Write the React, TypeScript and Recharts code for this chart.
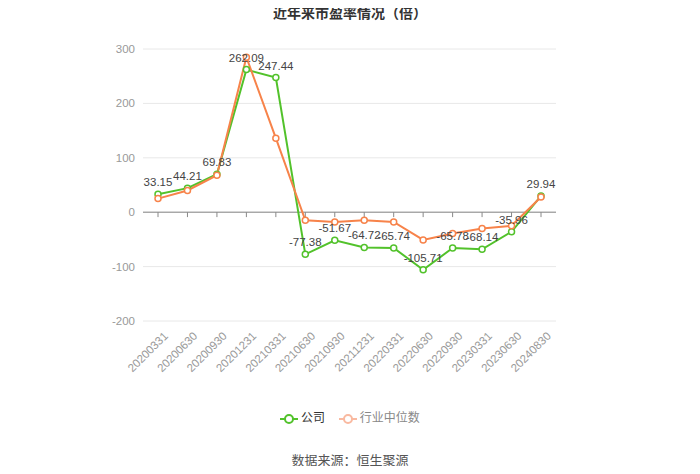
import React from 'react';
import { LineChart, Line, XAxis, YAxis, CartesianGrid, ReferenceLine, LabelList } from 'recharts';

const periods = [
  '20200331', '20200630', '20200930', '20201231', '20210331', '20210630', '20210930',
  '20211231', '20220331', '20220630', '20220930', '20230331', '20230630', '20240830',
];
const companyPE = [33.15, 44.21, 69.83, 262.09, 247.44, -77.38, -51.67, -64.72, -65.74, -105.71, -65.78, -68.14, -35.96, 29.94];
const industryPE = [25, 40, 68, 285, 136, -15, -18, -15, -18, -51, -39, -30, -25, 28];
const yTicks = [-200, -100, 0, 100, 200, 300];

const GREEN = '#52c22b';
const ORANGE = '#f7834a';
const FONT = '"Liberation Sans", "Noto Sans CJK SC", sans-serif';
const CJK = '"Noto Sans CJK SC", sans-serif';

const data = periods.map((p, i) => ({ period: p, company: companyPE[i], industry: industryPE[i] }));

const XTick = (props: any) => {
  const { x, y, payload } = props;
  return (
    <text x={x + 5} y={y + 2} transform={`rotate(-45, ${x + 5}, ${y + 2})`} textAnchor="end" fontSize={11.5} fill="#999" dy={8}>
      {payload.value}
    </text>
  );
};

const LegendIcon = ({ color }: { color: string }) => (
  <svg width={18} height={10} style={{ verticalAlign: 'middle' }}>
    <line x1={0} y1={5} x2={18} y2={5} stroke={color} strokeWidth={2} />
    <circle cx={9} cy={5} r={4} fill="#fff" stroke={color} strokeWidth={2} />
  </svg>
);

export default function App() {
  return (
    <div style={{ position: 'relative', width: 700, height: 474, background: '#fff', fontFamily: CJK, margin: -8 }}>
      <div style={{ position: 'absolute', top: 2, width: 700, textAlign: 'center', fontSize: 14, fontWeight: 'bold', color: '#333' }}>
        近年来市盈率情况（倍）
      </div>
      <LineChart width={700} height={474} data={data} margin={{ top: 49, right: 144, left: 103, bottom: 93 }} style={{ fontFamily: FONT }}>
        <CartesianGrid horizontal vertical={false} stroke="#e8e8e8" />
        <XAxis dataKey="period" axisLine={false} tickLine={false} interval={0} height={60} tick={<XTick />} padding={{ left: 15, right: 15 }} />
        <YAxis domain={[-200, 300]} ticks={yTicks} width={40} axisLine={false} tickLine={false} tick={{ fontSize: 11.5, fill: '#999' }} />
        <ReferenceLine y={0} stroke="#888" strokeWidth={1} />
        {periods.map((p) => (
          <ReferenceLine key={p} segment={[{ x: p, y: 0 }, { x: p, y: -9 }]} stroke="#888" />
        ))}
        <Line type="linear" dataKey="company" stroke={GREEN} strokeWidth={2} isAnimationActive={false}
          dot={{ r: 3, fill: '#fff', stroke: GREEN, strokeWidth: 1.5 }}>
          <LabelList dataKey="company" position="top" offset={8} fontSize={11.5} fill="#444" />
        </Line>
        <Line type="linear" dataKey="industry" stroke={ORANGE} strokeWidth={2} isAnimationActive={false}
          dot={{ r: 3, fill: '#fff', stroke: ORANGE, strokeWidth: 1.5 }} />
      </LineChart>
      <div style={{ position: 'absolute', top: 408, width: 700, textAlign: 'center', fontSize: 12, color: '#666' }}>
        <span style={{ marginRight: 14 }}><LegendIcon color={GREEN} /> <span style={{ color: '#333' }}>公司</span></span>
        <span><LegendIcon color="#f9b9a0" /> <span style={{ color: '#888' }}>行业中位数</span></span>
      </div>
      <div style={{ position: 'absolute', top: 450, width: 700, textAlign: 'center', fontSize: 13, color: '#555' }}>
        数据来源：恒生聚源
      </div>
    </div>
  );
}
